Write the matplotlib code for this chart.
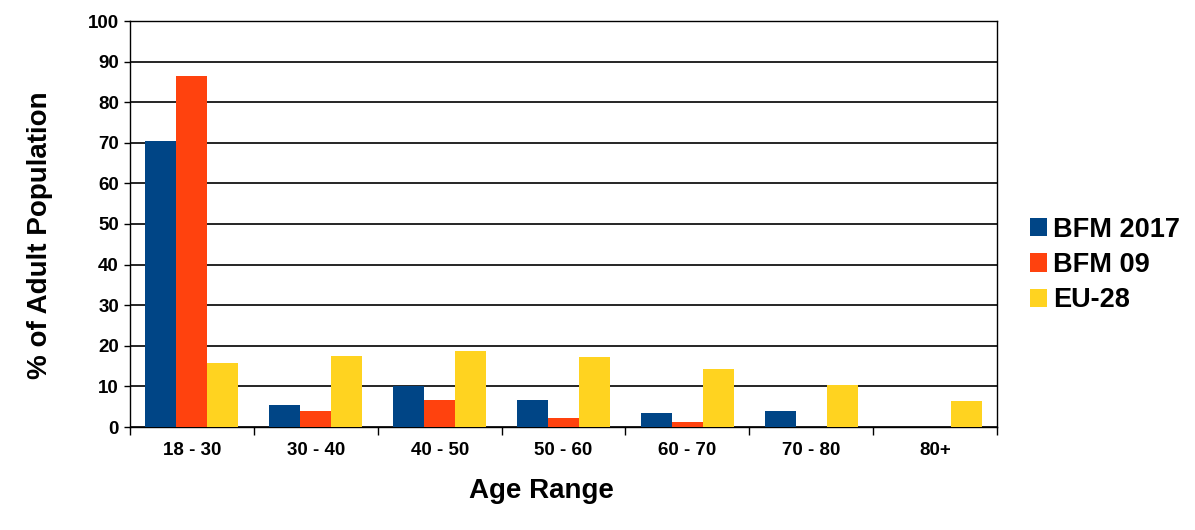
import numpy as np
import matplotlib
matplotlib.use("Agg")
import matplotlib.pyplot as plt
from matplotlib.ticker import FixedLocator, NullFormatter

plt.rcParams["font.family"] = ["Liberation Sans", "DejaVu Sans"]
plt.rcParams["font.weight"] = "bold"

ages = ["18 - 30", "30 - 40", "40 - 50", "50 - 60", "60 - 70", "70 - 80", "80+"]
bfm_2017 = [70.5, 5.5, 10.0, 6.7, 3.4, 3.9, 0]
bfm_09 = [86.4, 3.9, 6.7, 2.2, 1.2, 0, 0]
eu_28 = [15.7, 17.4, 18.8, 17.3, 14.2, 10.3, 6.4]

series = [("BFM 2017", bfm_2017, "#004586"),
          ("BFM 09", bfm_09, "#ff420e"),
          ("EU-28", eu_28, "#ffd320")]

fig = plt.figure(figsize=(11.95, 5.3), dpi=100)
ax = fig.add_axes([130 / 1195, 1 - 427 / 530, 867 / 1195, 406 / 530])

x = np.arange(len(ages))
w = 0.25
for k, (name, vals, col) in enumerate(series):
    ax.bar(x + (k - 1) * w, vals, w, color=col, label=name, zorder=3)

ax.set_xlim(-0.5, len(ages) - 0.5)
ax.set_ylim(0, 100)
ax.set_yticks(np.arange(0, 101, 10))
ax.yaxis.grid(True, color="black", linewidth=1.2, zorder=0)
ax.tick_params(axis="y", length=4, width=1, labelsize=13.5, pad=4)

ax.set_xticks(x)
ax.set_xticklabels(ages)
ax.tick_params(axis="x", which="major", length=0, labelsize=13.5, pad=11)
ax.xaxis.set_minor_locator(FixedLocator(np.arange(-0.5, len(ages), 1.0)))
ax.xaxis.set_minor_formatter(NullFormatter())
ax.tick_params(axis="x", which="minor", length=6, width=1, color="black")

for s in ax.spines.values():
    s.set_color("black")
    s.set_linewidth(1)

ax.set_xlabel("Age Range", fontsize=20, fontweight="bold", va="center")
ax.xaxis.set_label_coords(0.474, -0.158)
ax.set_ylabel("% of Adult Population", fontsize=20, fontweight="bold", va="center")
ax.yaxis.set_label_coords(-0.104, 0.473)

leg = fig.legend(loc="center left", bbox_to_anchor=(1019 / 1195, 1 - 265 / 530),
                 frameon=False, fontsize=19.5, handlelength=0.65, handleheight=0.65,
                 handletextpad=0.2, labelspacing=0.35, borderaxespad=0)
for t in leg.get_texts():
    t.set_fontweight("bold")

plt.savefig("out.png", dpi=100)
